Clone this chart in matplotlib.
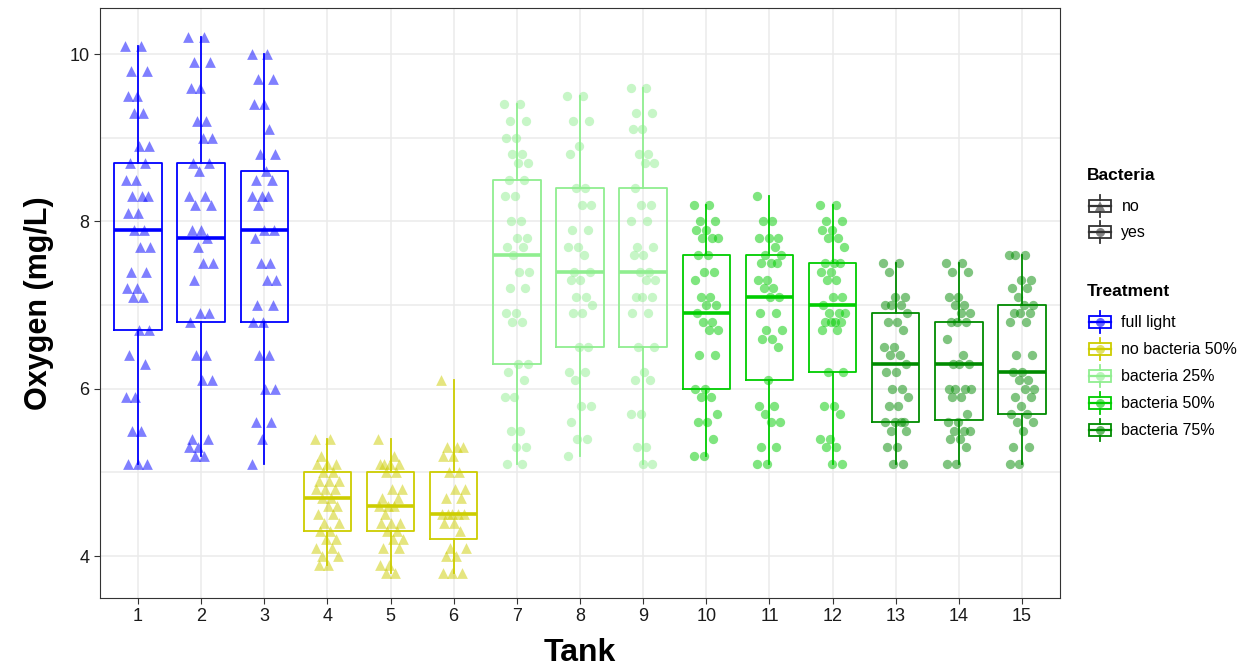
"""
Dissolved oxygen per tank: box plots with jittered raw readings,
coloured by light/bacteria treatment.
"""

import matplotlib
matplotlib.use("Agg")
import matplotlib.pyplot as plt
import numpy as np
from matplotlib.legend_handler import HandlerBase
from matplotlib.lines import Line2D
from matplotlib.patches import Rectangle

plt.rcParams["font.family"] = ["Liberation Sans", "DejaVu Sans"]

# ---- data ----
TANKS = list(range(1, 16))
TREATMENT_NAMES = ["full light", "no bacteria 50%", "bacteria 25%", "bacteria 50%", "bacteria 75%"]
TANK_TREATMENT = [0, 0, 0, 1, 1, 1, 2, 2, 2, 3, 3, 3, 4, 4, 4]
TANK_BACTERIA = ["no"] * 6 + ["yes"] * 9
BACTERIA_LEVELS = ["no", "yes"]

# box statistics per tank
WHIS_LO = [5.1, 5.2, 5.1, 3.9, 3.8, 3.8, 5.1, 5.2, 5.1, 5.2, 5.1, 5.1, 5.1, 5.1, 5.1]
Q1 = [6.7, 6.8, 6.8, 4.3, 4.3, 4.2, 6.3, 6.5, 6.5, 6.0, 6.1, 6.2, 5.6, 5.625, 5.7]
MEDIAN = [7.9, 7.8, 7.9, 4.7, 4.6, 4.5, 7.6, 7.4, 7.4, 6.9, 7.1, 7.0, 6.3, 6.3, 6.2]
Q3 = [8.7, 8.7, 8.6, 5.0, 5.0, 5.0, 8.5, 8.4, 8.4, 7.6, 7.6, 7.5, 6.9, 6.8, 7.0]
WHIS_HI = [10.1, 10.2, 10.0, 5.4, 5.4, 6.1, 9.4, 9.5, 9.6, 8.2, 8.3, 8.2, 7.5, 7.5, 7.6]

# individual readings per tank
TANK_01 = [10.1, 10.1, 9.8, 9.8, 9.5, 9.5, 9.3, 9.3, 8.9, 8.9, 8.7, 8.7, 8.5, 8.5, 8.3, 8.3, 8.3,
           8.1, 8.1, 7.9, 7.9, 7.7, 7.7, 7.4, 7.4, 7.2, 7.2, 7.1, 7.1, 6.7, 6.7, 6.4, 6.3, 5.9,
           5.9, 5.5, 5.5, 5.1, 5.1, 5.1]
TANK_02 = [10.2, 10.2, 9.9, 9.9, 9.6, 9.6, 9.2, 9.2, 9.0, 9.0, 8.7, 8.7, 8.6, 8.3, 8.3, 8.2, 8.2,
           7.9, 7.9, 7.8, 7.7, 7.5, 7.5, 7.3, 6.9, 6.9, 6.8, 6.4, 6.4, 6.1, 6.1, 5.4, 5.4, 5.3,
           5.3, 5.2, 5.2]
TANK_03 = [10.0, 10.0, 9.7, 9.7, 9.4, 9.4, 9.1, 8.8, 8.8, 8.6, 8.5, 8.5, 8.3, 8.3, 8.3, 8.2, 7.9,
           7.9, 7.8, 7.5, 7.5, 7.3, 7.3, 7.0, 7.0, 6.8, 6.8, 6.4, 6.4, 6.0, 6.0, 5.6, 5.6, 5.4,
           5.1]
TANK_04 = [5.4, 5.4, 5.2, 5.1, 5.1, 5.1, 5.0, 5.0, 4.9, 4.9, 4.9, 4.8, 4.8, 4.8, 4.7, 4.7, 4.6,
           4.6, 4.5, 4.5, 4.4, 4.4, 4.3, 4.3, 4.2, 4.2, 4.1, 4.1, 4.0, 4.0, 3.9, 3.9]
TANK_05 = [5.4, 5.2, 5.1, 5.1, 5.1, 5.1, 5.0, 5.0, 4.8, 4.8, 4.7, 4.7, 4.6, 4.6, 4.6, 4.5, 4.4,
           4.4, 4.4, 4.3, 4.3, 4.2, 4.2, 4.1, 4.1, 3.9, 3.9, 3.8, 3.8]
TANK_06 = [6.1, 5.3, 5.3, 5.3, 5.2, 5.2, 5.0, 5.0, 4.8, 4.8, 4.7, 4.7, 4.5, 4.5, 4.5, 4.5, 4.5,
           4.4, 4.4, 4.3, 4.1, 4.1, 4.0, 4.0, 3.8, 3.8, 3.8]
TANK_07 = [9.4, 9.4, 9.2, 9.2, 9.0, 9.0, 8.8, 8.8, 8.7, 8.7, 8.5, 8.5, 8.3, 8.3, 8.0, 8.0, 7.8,
           7.8, 7.7, 7.7, 7.6, 7.4, 7.4, 7.2, 7.2, 6.9, 6.9, 6.8, 6.8, 6.3, 6.3, 6.2, 6.1, 5.9,
           5.9, 5.5, 5.5, 5.3, 5.3, 5.1, 5.1]
TANK_08 = [9.5, 9.5, 9.2, 9.2, 8.9, 8.8, 8.4, 8.4, 8.2, 8.2, 7.9, 7.9, 7.7, 7.7, 7.6, 7.4, 7.4,
           7.3, 7.3, 7.1, 7.1, 7.0, 6.9, 6.9, 6.5, 6.5, 6.2, 6.2, 6.1, 5.8, 5.8, 5.6, 5.4, 5.4,
           5.2]
TANK_09 = [9.6, 9.6, 9.3, 9.3, 9.1, 9.1, 8.8, 8.8, 8.7, 8.7, 8.4, 8.2, 8.2, 8.0, 8.0, 7.7, 7.7,
           7.6, 7.6, 7.4, 7.4, 7.3, 7.3, 7.1, 7.1, 7.1, 6.9, 6.9, 6.5, 6.5, 6.2, 6.1, 6.1, 5.7,
           5.7, 5.3, 5.3, 5.1, 5.1]
TANK_10 = [8.2, 8.2, 8.0, 8.0, 7.9, 7.9, 7.8, 7.8, 7.8, 7.6, 7.6, 7.4, 7.4, 7.3, 7.1, 7.1, 7.0,
           7.0, 6.9, 6.8, 6.8, 6.7, 6.7, 6.4, 6.4, 6.0, 6.0, 5.9, 5.9, 5.7, 5.6, 5.6, 5.4, 5.2,
           5.2]
TANK_11 = [8.3, 8.0, 8.0, 7.8, 7.8, 7.8, 7.7, 7.6, 7.6, 7.5, 7.5, 7.5, 7.3, 7.3, 7.2, 7.2, 7.1,
           7.1, 6.9, 6.9, 6.7, 6.7, 6.6, 6.6, 6.5, 6.1, 5.8, 5.8, 5.7, 5.6, 5.6, 5.3, 5.3, 5.1,
           5.1]
TANK_12 = [8.2, 8.2, 8.0, 8.0, 7.9, 7.9, 7.8, 7.8, 7.7, 7.5, 7.5, 7.5, 7.4, 7.4, 7.3, 7.3, 7.1,
           7.1, 7.0, 6.9, 6.9, 6.9, 6.8, 6.8, 6.8, 6.8, 6.7, 6.7, 6.2, 6.2, 5.8, 5.8, 5.7, 5.4,
           5.4, 5.3, 5.3, 5.1, 5.1]
TANK_13 = [7.5, 7.5, 7.4, 7.1, 7.1, 7.0, 7.0, 7.0, 6.9, 6.8, 6.8, 6.7, 6.5, 6.5, 6.4, 6.4, 6.3,
           6.2, 6.2, 6.0, 6.0, 5.9, 5.8, 5.8, 5.6, 5.6, 5.6, 5.6, 5.5, 5.5, 5.3, 5.3, 5.1, 5.1]
TANK_14 = [7.5, 7.5, 7.4, 7.4, 7.1, 7.1, 7.0, 7.0, 6.9, 6.9, 6.8, 6.8, 6.8, 6.6, 6.4, 6.3, 6.3,
           6.3, 6.0, 6.0, 6.0, 6.0, 5.9, 5.9, 5.7, 5.6, 5.6, 5.5, 5.5, 5.5, 5.4, 5.4, 5.3, 5.1,
           5.1]
TANK_15 = [7.6, 7.6, 7.6, 7.3, 7.3, 7.2, 7.2, 7.1, 7.0, 7.0, 6.9, 6.9, 6.9, 6.8, 6.8, 6.4, 6.4,
           6.2, 6.2, 6.1, 6.1, 6.0, 6.0, 5.9, 5.9, 5.8, 5.7, 5.7, 5.6, 5.6, 5.5, 5.3, 5.3, 5.1,
           5.1]
READINGS = [TANK_01, TANK_02, TANK_03, TANK_04, TANK_05, TANK_06, TANK_07, TANK_08,
            TANK_09, TANK_10, TANK_11, TANK_12, TANK_13, TANK_14, TANK_15]

# ---- styling ----
TREATMENT_COLORS = ["#0000FF", "#CDCD00", "#90EE90", "#00CD00", "#008B00"]
BACTERIA_MARKERS = {"no": "^", "yes": "o"}
GRID_COLOR = "#EBEBEB"
JITTER = 0.2


class BoxKey:
    def __init__(self, color, marker):
        self.color = color
        self.marker = marker


class HandlerBoxKey(HandlerBase):
    """Draws a ggplot-like boxplot key with a point in the middle."""

    def create_artists(self, legend, orig_handle, xdescent, ydescent, width, height,
                       fontsize, trans):
        cx = width / 2 - xdescent
        cy = height / 2 - ydescent
        bw = width
        bh = height * 0.6
        c = orig_handle.color
        rect = Rectangle((cx - bw / 2, cy - bh / 2), bw, bh, fill=False, ec=c, lw=1.3,
                         transform=trans)
        w_top = Line2D([cx, cx], [cy + bh / 2, cy + height * 0.5], color=c, lw=1.3,
                       transform=trans)
        w_bot = Line2D([cx, cx], [cy - bh / 2, cy - height * 0.5], color=c, lw=1.3,
                       transform=trans)
        med = Line2D([cx - bw / 2, cx + bw / 2], [cy, cy], color=c, lw=1.6, transform=trans)
        pt = Line2D([cx], [cy], marker=orig_handle.marker, ms=6.5, color=c, alpha=0.6,
                    ls="none", mew=0, transform=trans)
        return [rect, w_top, w_bot, med, pt]


def jitter_offsets(n):
    # deterministic low-discrepancy spread, purely positional
    return (((np.arange(n) * 0.6180339887) % 1.0) * 2 - 1) * JITTER


def draw_boxes(ax):
    for i, tank in enumerate(TANKS):
        color = TREATMENT_COLORS[TANK_TREATMENT[i]]
        stats = [{
            "whislo": WHIS_LO[i], "q1": Q1[i], "med": MEDIAN[i],
            "q3": Q3[i], "whishi": WHIS_HI[i],
        }]
        ax.bxp(stats, positions=[tank], widths=0.75, showcaps=False, showfliers=False,
               boxprops=dict(color=color, linewidth=1.3),
               whiskerprops=dict(color=color, linewidth=1.3),
               medianprops=dict(color=color, linewidth=2.6),
               manage_ticks=False, zorder=2)


def draw_points(ax):
    for i, tank in enumerate(TANKS):
        vals = np.asarray(READINGS[i])
        color = TREATMENT_COLORS[TANK_TREATMENT[i]]
        marker = BACTERIA_MARKERS[TANK_BACTERIA[i]]
        ax.scatter(tank + jitter_offsets(len(vals)), vals, s=60 if marker == "^" else 45,
                   marker=marker, color=color, alpha=0.5, linewidths=0, zorder=3)


def add_legends(fig, ax):
    px = lambda y: 1 - y / 671
    common = dict(handler_map={BoxKey: HandlerBoxKey()}, frameon=False, loc="center left",
                  fontsize=11.5, handlelength=1.38, handleheight=1.7,
                  handletextpad=0.65, borderpad=0, borderaxespad=0,
                  bbox_transform=fig.transFigure)

    fig.text(1087 / 1243, px(175), "Bacteria", fontsize=12.5, fontweight="bold",
             ha="left", va="center")
    bact_handles = [BoxKey("#333333", BACTERIA_MARKERS[b]) for b in BACTERIA_LEVELS]
    leg1 = ax.legend(bact_handles, BACTERIA_LEVELS, bbox_to_anchor=(1089 / 1243, px(219)),
                     labelspacing=0.28, **common)
    ax.add_artist(leg1)

    fig.text(1087 / 1243, px(291), "Treatment", fontsize=12.5, fontweight="bold",
             ha="left", va="center")
    treat_handles = [BoxKey(c, "o") for c in TREATMENT_COLORS]
    ax.legend(treat_handles, TREATMENT_NAMES, bbox_to_anchor=(1089 / 1243, px(376)),
              labelspacing=0.34, **common)


def main():
    fig = plt.figure(figsize=(12.43, 6.71), dpi=100)
    ax = fig.add_axes([100 / 1243, 1 - 598 / 671, 960 / 1243, 590 / 671])

    ax.set_xlim(0.4, 15.6)
    ax.set_ylim(3.5, 10.55)
    ax.set_xticks(TANKS)
    ax.set_xticklabels([str(t) for t in TANKS])
    ax.set_yticks([4, 6, 8, 10])
    ax.set_yticks([5, 7, 9], minor=True)

    ax.grid(True, which="major", color=GRID_COLOR, lw=1.1, zorder=0)
    ax.grid(True, which="minor", axis="y", color=GRID_COLOR, lw=1.1, zorder=0)
    ax.set_axisbelow(True)
    ax.tick_params(axis="both", which="major", labelsize=13, colors="#333333",
                   length=4, width=0.8, labelcolor="#1a1a1a")
    ax.tick_params(axis="y", which="minor", length=0)
    for spine in ax.spines.values():
        spine.set_color("#333333")
        spine.set_linewidth(0.8)

    draw_boxes(ax)
    draw_points(ax)

    ax.set_xlabel("Tank", fontsize=23, fontweight="bold", labelpad=9)
    ax.set_ylabel("Oxygen (mg/L)", fontsize=22, fontweight="bold", labelpad=11)

    add_legends(fig, ax)

    fig.savefig("out.png", dpi=100)
    plt.close(fig)


if __name__ == "__main__":
    main()
